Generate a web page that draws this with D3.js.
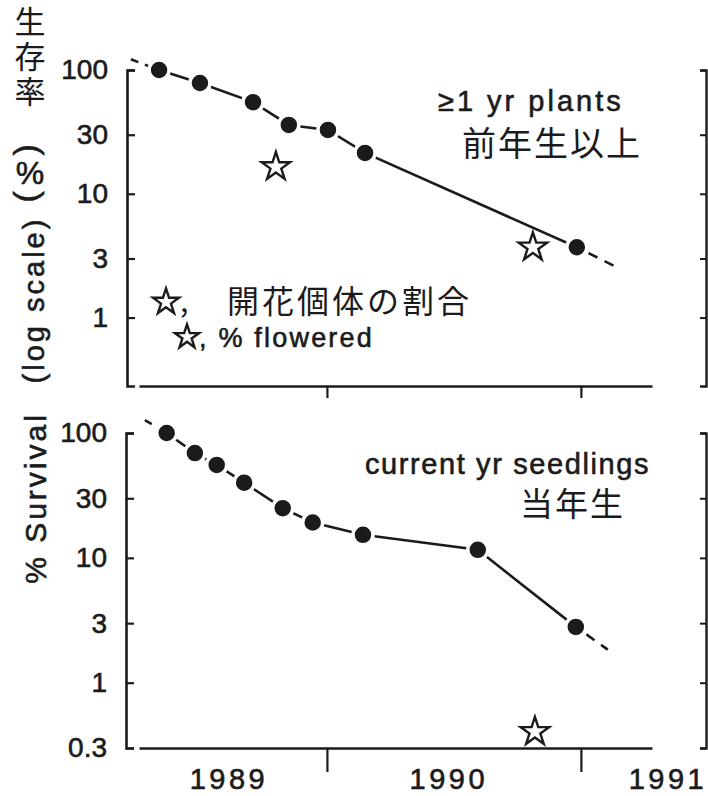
<!DOCTYPE html>
<html>
<head>
<meta charset="utf-8">
<script src="https://cdn.jsdelivr.net/npm/d3@7"></script>
<style>
  body { margin: 0; background: #fff; }
  svg { display: block; }
  text { fill: #1b1b1b; }
  text.heavy { stroke: #1b1b1b; stroke-width: 0.6px; }
</style>
</head>
<body>
<svg id="chart" width="708" height="796"></svg>
<script>
// ≥1 yr plants: census date (decimal year) and % surviving
const plantsDates = [1989.339, 1989.500, 1989.709, 1989.850, 1990.004, 1990.150, 1990.984];
const plantsSurvival = [100, 78.5, 55, 36, 32.8, 21.4, 3.7];
// dashed extrapolation before the first and after the last census
const plantsExtrapDates = [1989.228, 1991.150];
const plantsExtrapValues = [122, 2.5];
// % of plants that flowered
const plantsFloweredDates = [1989.799, 1990.811];
const plantsFlowered = [16.5, 3.7];

// current-year seedlings
const seedlingDates = [1989.369, 1989.480, 1989.566, 1989.674, 1989.826, 1989.944, 1990.142, 1990.594, 1990.980];
const seedlingSurvival = [100, 69, 55.5, 40, 25, 19.2, 15.3, 11.6, 2.8];
const seedlingExtrapDates = [1989.283, 1991.106];
const seedlingExtrapValues = [127, 1.84];
const seedlingFloweredDates = [1990.819];
const seedlingFlowered = [0.405];

// axes
const plantsYTicks = [100, 30, 10, 3, 1];
const seedlingYTicks = [100, 30, 10, 3, 1, 0.3];
const yearTicks = [1990, 1991];
const yearLabels = ["1989", "1990", "1991"];
const yearLabelAt = [1989.614, 1990.480, 1991.343];

const LATIN = "'Liberation Sans', Arial, sans-serif";
const CJK = "'Noto Sans CJK JP', sans-serif";
const INK = "#1b1b1b";

const svg = d3.select("#chart");

const x = d3.scaleLinear().domain([1989.26, 1991.28]).range([139, 652]);

const star = d3.symbol().type(d3.symbolStar);

function drawPanel(cfg) {
  const g = svg.append("g");
  const y = d3.scaleLog().domain(cfg.yDomain).range(cfg.yRange);

  // left axis, ticks pointing into the plot
  const left = g.append("g")
    .attr("transform", `translate(${cfg.leftX},0)`)
    .call(d3.axisLeft(y).tickValues(cfg.yTicks).tickFormat(d3.format("~g"))
      .tickSizeInner(-8).tickSizeOuter(-8).tickPadding(19));
  left.select(".domain").attr("stroke", INK).attr("stroke-width", 2.6).attr("fill", "none");
  left.selectAll(".tick line").attr("stroke", INK).attr("stroke-width", 2.2);
  left.selectAll(".tick text").attr("class", "heavy").attr("font-family", LATIN)
    .attr("font-size", 28).attr("fill", INK);

  // right axis, unlabelled
  const right = g.append("g")
    .attr("transform", `translate(${cfg.rightX},0)`)
    .call(d3.axisLeft(y).tickValues(cfg.yTicks).tickFormat("").tickSizeInner(6).tickSizeOuter(6));
  right.select(".domain").attr("stroke", INK).attr("stroke-width", 2.4).attr("fill", "none");
  right.selectAll(".tick line").attr("stroke", INK).attr("stroke-width", 2);

  // time axis
  const bottom = g.append("g")
    .attr("transform", `translate(0,${cfg.axisY})`)
    .call(d3.axisBottom(x).tickValues(yearTicks).tickFormat("").tickSizeInner(cfg.xTick).tickSizeOuter(0));
  bottom.select(".domain").attr("stroke", INK).attr("stroke-width", 2.6);
  bottom.selectAll(".tick line").attr("stroke", INK).attr("stroke-width", 2.2);

  const pts = cfg.dates.map((d, i) => [x(d), y(cfg.values[i])]);
  const first = pts[0], last = pts[pts.length - 1];
  const lead = [x(cfg.extrapDates[0]), y(cfg.extrapValues[0])];
  const trail = [x(cfg.extrapDates[1]), y(cfg.extrapValues[1])];

  const line = d3.line();
  g.append("path").attr("d", line([lead, first]))
    .attr("fill", "none").attr("stroke", INK).attr("stroke-width", 2.6)
    .attr("stroke-dasharray", "8,7");
  g.append("path").attr("d", line([last, trail]))
    .attr("fill", "none").attr("stroke", INK).attr("stroke-width", 2.6)
    .attr("stroke-dasharray", "0,13,10,8,10,8");
  g.append("path").attr("d", line(pts))
    .attr("fill", "none").attr("stroke", INK).attr("stroke-width", 2.6);

  g.selectAll("circle.obs").data(pts).join("circle")
    .attr("class", "obs")
    .attr("cx", d => d[0]).attr("cy", d => d[1]).attr("r", 10)
    .attr("fill", INK).attr("stroke", "#fff").attr("stroke-width", 3.5);

  g.selectAll("path.flower").data(cfg.flDates.map((d, i) => [x(d), y(cfg.flValues[i])]))
    .join("path").attr("class", "flower")
    .attr("d", star.size(250)())
    .attr("transform", d => `translate(${d[0]},${d[1]})`)
    .attr("fill", "#fff").attr("stroke", INK).attr("stroke-width", 2.4)
    .attr("stroke-linejoin", "miter");

  // year labels
  if (cfg.years) {
    g.selectAll("text.year").data(yearLabels).join("text").attr("class", "year heavy")
      .attr("x", (d, i) => x(yearLabelAt[i])).attr("y", cfg.axisY + 41)
      .attr("text-anchor", "middle").attr("font-family", LATIN).attr("font-size", 29)
      .attr("letter-spacing", 3.5).text(d => d);
  }
  return y;
}

drawPanel({
  yDomain: [0.28, 100], yRange: [386, 70], yTicks: plantsYTicks,
  leftX: 127, rightX: 706, axisY: 386, xTick: 12,
  dates: plantsDates, values: plantsSurvival,
  extrapDates: plantsExtrapDates, extrapValues: plantsExtrapValues,
  flDates: plantsFloweredDates, flValues: plantsFlowered, years: false
});

drawPanel({
  yDomain: [0.3, 100], yRange: [748, 433], yTicks: seedlingYTicks,
  leftX: 126, rightX: 706, axisY: 748, xTick: 24,
  dates: seedlingDates, values: seedlingSurvival,
  extrapDates: seedlingExtrapDates, extrapValues: seedlingExtrapValues,
  flDates: seedlingFloweredDates, flValues: seedlingFlowered, years: true
});

// y-axis title: vertical Japanese, then rotated English
const title = svg.append("g");
title.append("text").attr("x", 30).attr("y", 6)
  .style("writing-mode", "vertical-rl").style("text-orientation", "upright")
  .attr("font-family", CJK).attr("font-size", 31).attr("letter-spacing", 4)
  .text("生存率");
title.append("text").attr("class", "heavy").attr("transform", "translate(32,150) rotate(90)")
  .attr("text-anchor", "middle").attr("dominant-baseline", "central")
  .attr("font-family", LATIN).attr("font-size", 34).text("(");
title.append("text").attr("class", "heavy").attr("x", 30).attr("y", 173)
  .attr("text-anchor", "middle").attr("dominant-baseline", "central")
  .attr("font-family", LATIN).attr("font-size", 32).text("%");
title.append("text").attr("class", "heavy").attr("transform", "translate(32,197) rotate(90)")
  .attr("text-anchor", "middle").attr("dominant-baseline", "central")
  .attr("font-family", LATIN).attr("font-size", 34).text(")");
title.append("text").attr("class", "heavy").attr("transform", "translate(34,300) rotate(-90)")
  .attr("text-anchor", "middle").attr("dominant-baseline", "central")
  .attr("font-family", LATIN).attr("font-size", 29).attr("letter-spacing", 3)
  .text("(log scale)");
title.append("text").attr("class", "heavy").attr("transform", "translate(35,498) rotate(-90)")
  .attr("text-anchor", "middle").attr("dominant-baseline", "central")
  .attr("font-family", LATIN).attr("font-size", 30).attr("letter-spacing", 3)
  .text("% Survival");

// panel captions
svg.append("text").attr("class", "heavy").attr("x", 438).attr("y", 111)
  .attr("font-family", LATIN).attr("font-size", 29).attr("letter-spacing", 3)
  .text("≥1 yr plants");
svg.append("text").attr("x", 462).attr("y", 156)
  .attr("font-family", CJK).attr("font-size", 34).attr("letter-spacing", 2)
  .text("前年生以上");
svg.append("text").attr("class", "heavy").attr("x", 365).attr("y", 474)
  .attr("font-family", LATIN).attr("font-size", 29).attr("letter-spacing", 1.6)
  .text("current yr seedlings");
svg.append("text").attr("x", 520).attr("y", 516)
  .attr("font-family", CJK).attr("font-size", 33).attr("letter-spacing", 2)
  .text("当年生");

// legend for the flowering stars
const legend = svg.append("g");
legend.append("path").attr("d", star.size(210)())
  .attr("transform", "translate(166,302)")
  .attr("fill", "#fff").attr("stroke", INK).attr("stroke-width", 2.4);
legend.append("text").attr("x", 180).attr("y", 312)
  .attr("font-family", CJK).attr("font-size", 30).text(",");
legend.append("text").attr("x", 227).attr("y", 313)
  .attr("font-family", CJK).attr("font-size", 32).attr("letter-spacing", 3)
  .text("開花個体の割合");
legend.append("path").attr("d", star.size(180)())
  .attr("transform", "translate(187,337)")
  .attr("fill", "#fff").attr("stroke", INK).attr("stroke-width", 2.4);
legend.append("text").attr("class", "heavy").attr("x", 199).attr("y", 347)
  .attr("font-family", LATIN).attr("font-size", 27).attr("letter-spacing", 2.2)
  .text(", % flowered");
</script>
</body>
</html>
